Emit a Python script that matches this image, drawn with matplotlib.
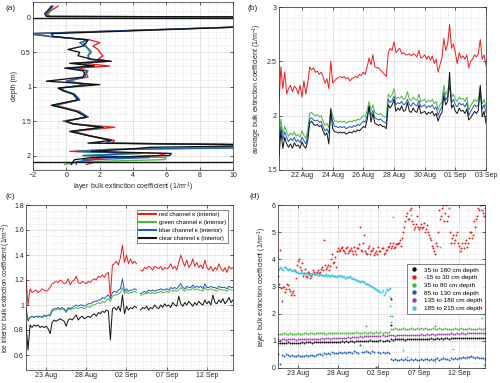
import numpy as np
import pandas as pd
import matplotlib
matplotlib.use("Agg")
import matplotlib.pyplot as plt
import matplotlib.dates as mdates
from matplotlib.ticker import MultipleLocator, FormatStrFormatter, FixedLocator

plt.rcParams["font.family"] = ["Liberation Sans", "DejaVu Sans"]
plt.rcParams["mathtext.default"] = "regular"

nan = np.nan

# -----------------------------
# COLOURS
# -----------------------------
RED = "#f01c1c"
GREEN = "#4cb83a"
BLUE = "#1f5cbf"
BLACK = "#111111"
PURPLE = "#a23fb0"
CYAN = "#3fc6df"

# -----------------------------
# (a) PROFILE DATA
# -----------------------------
depth_m = [-0.17, -0.11, -0.06, -0.02, 0.00, 0.12, 0.23, 0.27, 0.32, 0.36,
           0.41, 0.46, 0.50, 0.55, 0.60, 0.63, 0.66, 0.70, 0.73, 0.77,
           0.81, 0.86, 0.92, 0.97, 1.02, 1.06, 1.11, 1.19, 1.27, 1.31,
           1.36, 1.44, 1.50, 1.54, 1.59, 1.65, 1.72, 1.78, 1.82, 1.85,
           1.88, 1.91, 1.94, 1.97, 2.00, 2.03, 2.06, 2.09, 2.13]
red_a = [-0.5, -0.9, -1.1, -1.0, 40, 12, -2.3, -1.0, 1.4, 2.0,
         1.6, 1.9, 2.0, 2.2, 1.9, 2.5, 1.0, 2.6, 0.7, 1.3,
         1.2, 1.3, 0.0, 1.5, -0.4, -0.1, 0.5, 0.8, -0.6, 0.0,
         0.8, 1.3, -0.2, 0.5, 2.9, 0.4, 1.6, 2.9, 2.7, 14,
         12, 2.8, 0.2, 6.0, 5.5, 2.5, 1.0, 1.8, 1.2]
green_a = [-0.8, -1.0, -1.1, -1.1, 40, 12, -1.8, -1.0, 1.3, 1.0,
           1.2, 1.3, 1.4, 1.3, 1.3, 2.2, 0.6, 1.6, 0.4, 1.2,
           1.1, 1.0, 0.1, 1.2, -0.4, -0.1, 0.5, 0.8, -0.8, -0.1,
           0.7, 1.3, -0.1, 0.4, 2.3, 0.3, 1.5, 2.7, 2.4, 14,
           13, 2.4, 0.6, 4.0, 1.0, 6.0, 5.9, 0.8, -0.1]
blue_a = [-0.8, -1.0, -1.2, -1.1, 40, 12, -2.3, -1.0, 1.3, 0.8,
          1.1, 1.4, 1.5, 1.3, 1.4, 2.3, 0.5, 1.6, 0.3, 1.2,
          1.2, 1.1, 0.0, 1.1, -0.4, -0.1, 0.5, 0.8, -0.8, -0.1,
          0.7, 1.3, -0.1, 0.4, 2.1, 0.3, 1.5, 2.7, 2.4, 14,
          13, 3.0, 0.6, 4.5, 1.0, 5.0, 1.5, 0.6, 0.6]
black_a = [-0.9, -1.1, -1.3, -1.2, 40, 12, -0.9, -0.8, 1.3, 1.2,
           1.0, 0.1, 0.8, 0.7, 1.5, 2.7, 0.2, 1.7, -0.1, 1.0,
           1.1, 1.0, -1.2, 2.0, -0.5, -0.2, 0.4, 0.7, -0.9, -0.2,
           0.6, 1.2, 0.0, 0.4, 2.2, 0.2, 1.5, 2.7, 1.3, 14,
           5.1, 3.5, 1.5, 6.3, 6.2, 1.5, 0.5, 0.4, 0.3]
ice_surface_m = 0.0
ice_bottom_m = 2.10

# -----------------------------
# (b) AVERAGE COEFFICIENT, 3-hourly from 20 Aug 12:00
# -----------------------------
b_start = "2020-08-20 12:00"
red_b = [2.12, 2.45, 2.25, 2.40, 2.20, 2.25, 2.28, 2.22, 2.27, 2.25,
         2.20, 2.28, 2.17, 2.32, 2.20, 2.30, 2.45, 2.42, 2.44, 2.40,
         2.41, 2.38, 2.40, 2.36, 2.30, 2.34, 2.25, 2.50, 2.30, 2.32,
         2.34, 2.35, 2.36, 2.35, 2.36, 2.34, 2.35, 2.32, 2.34, 2.35,
         2.36, 2.35, 2.38, 2.37, 2.40, 2.38, 2.45, 2.53, 2.47, 2.56,
         2.45, 2.44, 2.44, 2.42, 2.40, 2.38, 2.36, 2.58, 2.62, 2.60,
         2.68, 2.58, 2.60, 2.62, 2.57, 2.58, 2.56, 2.56, 2.57, 2.55,
         2.57, 2.56, 2.54, 2.60, 2.53, 2.54, 2.56, 2.52, 2.55, 2.51,
         2.55, 2.48, 2.52, 2.40, 2.47, 2.53, 2.71, 2.60, 2.66, 2.84,
         2.62, 2.66, 2.58, 2.48, 2.58, 2.53, 2.55, 2.52, 2.56, 2.44,
         2.50, 2.52, 2.56, 2.54, 2.57, 2.70, 2.52, 2.56, 2.46]
green_b = [1.78, 1.97, 1.83, 1.90, 1.85, 1.81, 1.84, 1.82, 1.85, 1.81,
           1.83, 1.80, 1.86, 1.82, 1.79, 1.87, 2.02, 2.03, 2.01, 2.00,
           2.01, 1.99, 2.00, 1.95, 1.91, 1.93, 1.89, 2.07, 2.00, 1.95,
           1.95, 1.94, 1.95, 1.94, 1.95, 1.93, 1.94, 1.95, 1.94, 1.96,
           1.95, 1.97, 1.96, 1.98, 2.00, 1.99, 2.05, 2.13, 2.05, 2.10,
           2.03, 2.02, 2.01, 2.02, 2.00, 1.99, 1.98, 2.20, 2.17, 2.19,
           2.25, 2.15, 2.17, 2.16, 2.18, 2.15, 2.16, 2.22, 2.15, 2.14,
           2.17, 2.15, 2.14, 2.20, 2.13, 2.14, 2.15, 2.12, 2.14, 2.13,
           2.15, 2.11, 2.13, 2.05, 2.10, 2.13, 2.28, 2.19, 2.23, 2.31,
           2.17, 2.20, 2.15, 2.13, 2.17, 2.15, 2.16, 2.13, 2.17, 2.05,
           2.09, 2.12, 2.15, 2.13, 2.15, 2.26, 2.11, 2.15, 2.08]
blue_b = [1.72, 1.90, 1.78, 1.85, 1.80, 1.76, 1.79, 1.77, 1.80, 1.76,
          1.78, 1.75, 1.80, 1.77, 1.74, 1.82, 1.97, 1.98, 1.96, 1.95,
          1.96, 1.94, 1.95, 1.90, 1.86, 1.88, 1.84, 2.03, 1.95, 1.90,
          1.90, 1.89, 1.90, 1.89, 1.90, 1.88, 1.89, 1.90, 1.89, 1.91,
          1.90, 1.92, 1.91, 1.93, 1.95, 1.94, 2.00, 2.08, 2.00, 2.05,
          1.98, 1.97, 1.96, 1.97, 1.95, 1.94, 1.93, 2.15, 2.12, 2.14,
          2.18, 2.10, 2.12, 2.11, 2.13, 2.10, 2.11, 2.15, 2.10, 2.09,
          2.12, 2.10, 2.09, 2.14, 2.08, 2.09, 2.10, 2.07, 2.09, 2.08,
          2.10, 2.06, 2.08, 2.00, 2.05, 2.08, 2.22, 2.14, 2.18, 2.27,
          2.12, 2.15, 2.10, 2.08, 2.12, 2.10, 2.11, 2.08, 2.12, 2.00,
          2.04, 2.07, 2.10, 2.08, 2.10, 2.20, 2.06, 2.10, 2.03]
black_b = [1.62, 1.86, 1.70, 1.80, 1.74, 1.71, 1.74, 1.70, 1.75, 1.72,
           1.73, 1.70, 1.76, 1.72, 1.70, 1.77, 1.93, 1.95, 1.92, 1.91,
           1.92, 1.90, 1.91, 1.86, 1.82, 1.84, 1.74, 2.06, 1.88, 1.85,
           1.85, 1.84, 1.85, 1.84, 1.85, 1.83, 1.84, 1.85, 1.84, 1.86,
           1.85, 1.87, 1.86, 1.88, 1.90, 1.89, 1.96, 2.09, 1.94, 2.02,
           1.93, 1.92, 1.91, 1.92, 1.90, 1.90, 1.88, 2.10, 2.07, 2.10,
           2.15, 2.04, 2.07, 2.05, 2.09, 2.04, 2.05, 2.12, 2.04, 2.03,
           2.07, 2.04, 2.03, 2.10, 2.02, 2.03, 2.04, 2.01, 2.03, 2.02,
           2.04, 2.00, 2.02, 1.95, 2.00, 2.03, 2.18, 2.10, 2.13, 2.40,
           2.07, 2.10, 2.04, 2.02, 2.07, 2.04, 2.05, 2.02, 2.06, 1.96,
           1.98, 2.01, 2.04, 2.02, 2.05, 2.28, 1.99, 2.04, 1.93]
b_ticks = ["2020-08-22", "2020-08-24", "2020-08-26", "2020-08-28",
           "2020-08-30", "2020-09-01", "2020-09-03"]

# -----------------------------
# (c) ICE INTERIOR COEFFICIENT, 6-hourly from 20 Aug 12:00
# -----------------------------
c_start = "2020-08-20 12:00"
red_c = [1.22, 1.00, 1.13, 1.10, 1.11, 1.12, 1.10, 1.11, 1.13, 1.12,
         1.11, 1.12, 1.14, 1.17, 1.18, 1.19, 1.18, 1.20, 1.19, 1.17,
         1.18, 1.21, 1.16, 1.19, 1.20, 1.23, 1.18, 1.17, 1.19, 1.18,
         1.17, 1.19, 1.18, 1.20, 1.21, 1.20, 1.23, 1.22, 1.24, 1.22,
         1.25, 1.26, 1.07, 1.32, 1.33, 1.35, 1.32, 1.38, 1.48, 1.34,
         1.40, 1.33, 1.37, 1.33, 1.35, 1.33, nan, 1.28, 1.27, 1.30,
         1.29, 1.31, 1.30, 1.28, 1.31, 1.30, 1.29, 1.31, 1.28, 1.30,
         1.29, 1.30, 1.33, 1.29, 1.31, 1.28, 1.34, 1.40, 1.35, 1.31,
         1.36, 1.30, 1.32, 1.37, 1.31, 1.34, 1.30, 1.32, 1.29, 1.36,
         1.30, 1.28, 1.31, 1.27, 1.30, 1.28, 1.33, 1.29, 1.27, 1.30,
         1.26, 1.31, 1.29, 1.30]
green_c = [0.97, 0.88, 0.90, 0.91, 0.90, 0.91, 0.90, 0.91, 0.90, 0.91,
           0.91, 0.92, 0.91, 0.95, 0.96, 0.96, 0.97, 0.96, 0.97, 0.96,
           0.94, 0.97, 0.96, 0.97, 0.97, 0.98, 0.97, 0.98, 0.98, 0.97,
           0.98, 0.99, 0.98, 1.00, 1.00, 1.01, 1.02, 1.01, 1.03, 1.02,
           1.04, 1.05, 1.03, 1.07, 1.08, 1.08, 1.09, 1.10, 1.14, 1.09,
           1.11, 1.09, 1.10, 1.10, 1.11, 1.10, nan, 1.08, 1.08, 1.09,
           1.09, 1.10, 1.09, 1.10, 1.09, 1.10, 1.10, 1.11, 1.10, 1.10,
           1.11, 1.10, 1.12, 1.11, 1.12, 1.11, 1.12, 1.14, 1.12, 1.11,
           1.13, 1.12, 1.12, 1.14, 1.12, 1.13, 1.12, 1.12, 1.11, 1.14,
           1.12, 1.12, 1.13, 1.12, 1.12, 1.11, 1.13, 1.12, 1.12, 1.12,
           1.11, 1.13, 1.12, 1.12]
blue_c = [0.98, 0.87, 0.90, 0.91, 0.90, 0.91, 0.91, 0.91, 0.90, 0.92,
          0.91, 0.92, 0.92, 0.96, 0.97, 0.97, 0.98, 0.97, 0.98, 0.97,
          0.95, 0.98, 0.97, 0.98, 0.99, 1.00, 0.99, 1.00, 1.00, 0.99,
          1.00, 1.01, 1.01, 1.02, 1.03, 1.03, 1.04, 1.04, 1.06, 1.05,
          1.07, 1.08, 1.05, 1.10, 1.11, 1.10, 1.12, 1.13, 1.21, 1.11,
          1.13, 1.11, 1.12, 1.12, 1.13, 1.12, nan, 1.09, 1.10, 1.11,
          1.10, 1.12, 1.11, 1.12, 1.11, 1.12, 1.12, 1.13, 1.12, 1.12,
          1.13, 1.12, 1.14, 1.13, 1.14, 1.13, 1.15, 1.17, 1.14, 1.13,
          1.15, 1.14, 1.14, 1.16, 1.14, 1.15, 1.14, 1.15, 1.13, 1.17,
          1.14, 1.14, 1.15, 1.14, 1.14, 1.13, 1.15, 1.14, 1.14, 1.14,
          1.13, 1.15, 1.14, 1.14]
black_c = [0.85, 0.64, 0.84, 0.82, 0.84, 0.83, 0.84, 0.82, 0.83, 0.82,
           0.83, 0.81, 0.77, 0.86, 0.88, 0.87, 0.88, 0.89, 0.88, 0.87,
           0.83, 0.88, 0.89, 0.88, 0.90, 0.92, 0.88, 0.90, 0.91, 0.89,
           0.90, 0.91, 0.90, 0.92, 0.93, 0.91, 0.94, 0.93, 0.95, 0.94,
           0.96, 0.95, 0.72, 0.97, 0.98, 0.96, 0.99, 0.95, 1.08, 0.93,
           0.99, 0.96, 0.98, 0.97, 0.99, 0.98, nan, 0.96, 0.98, 0.97,
           0.99, 0.96, 0.98, 0.97, 1.00, 0.98, 0.97, 1.00, 0.98, 1.01,
           0.99, 1.00, 0.98, 1.02, 1.00, 0.99, 1.07, 1.01, 0.99, 1.02,
           1.00, 1.03, 1.01, 0.99, 1.02, 1.00, 1.03, 1.01, 1.00, 1.04,
           1.01, 1.03, 1.00, 1.08, 1.02, 1.01, 1.04, 1.02, 1.05, 1.01,
           1.03, 1.06, 1.02, 1.04]
cd_ticks = ["2020-08-23", "2020-08-28", "2020-09-02", "2020-09-07", "2020-09-12"]

# -----------------------------
# (d) LAYER COEFFICIENTS, 6-hourly from 20 Aug 12:00
# -----------------------------
d_start = "2020-08-20 12:00"
d_start_late = "2020-08-20 15:00"
black_d = [0.92, 0.93, 0.91, 0.93, 0.92, 0.94, 0.92, 0.93, 0.91, 0.93,
           0.92, 0.93, 0.94, 0.92, 0.95, 0.94, 0.96, 0.93, 0.95, 0.96,
           0.94, 0.95, 0.97, 0.95, 0.96, 0.94, 0.97, 0.96, 0.95, 0.97,
           0.96, 0.97, 0.98, 0.96, 0.98, 0.97, 0.99, 0.98, 0.97, 0.99,
           1.00, 0.98, 0.99, 1.01, 0.99, 1.00, 1.02, 1.00, 0.99, 1.01,
           1.00, 1.02, 1.01, 1.00, 1.02, 1.01, 1.05, 1.04, 1.06, 1.05,
           1.07, 1.05, 1.06, 1.04, 1.06, 1.07, 1.05, 1.06, 1.08, 1.06,
           1.07, 1.05, 1.08, 1.07, 1.06, 1.08, 1.09, 1.07, 1.08, 1.10,
           1.08, 1.09, 1.07, 1.10, 1.09, 1.08, 1.10, 1.09, 1.11, 1.10,
           1.09, 1.11, 1.10, 1.12, 1.10, 1.09, 1.11, 1.10, 1.12, 1.11,
           1.10, 1.12, 1.11, 1.10]
red_d = [3.40, 4.35, 2.45, 3.00, 2.90, 3.05, 2.85, 2.75, 2.70, 3.30,
         3.95, 3.70, 3.85, 3.50, 3.40, 3.55, 3.30, 3.45, 3.55, 3.50,
         3.60, 3.55, 3.70, 4.70, 3.65, 3.80, 3.75, 4.20, 3.90, 3.70,
         4.40, 4.35, 4.45, 4.30, 4.40, 4.25, 4.35, 4.30, 4.45, 4.20,
         4.40, 5.20, 4.30, 4.90, 4.25, 4.40, 4.20, 4.35, 4.15, 4.30,
         4.45, 4.30, 4.40, 4.25, 4.35, 4.50, 4.40, 4.60, 4.45, 4.55,
         4.60, 4.50, 5.00, 5.40, 5.70, 5.50, 5.90, 5.30, 5.20, 5.60,
         5.10, 5.30, 5.20, 5.00, 5.25, 4.90, 4.70, 4.40, 4.20, 4.50,
         5.80, 5.60, 6.00, 5.70, 5.40, 5.90, 4.60, 4.90, 4.70, 5.00,
         4.50, 4.40, 3.80, 4.60, 4.45, 4.80, 5.00, 4.90, 5.20, 5.60,
         5.80, 6.00, 5.70, 5.90]
red_d_late = [3.10, 2.95, 3.00, 2.80, 3.10, 2.90, 2.70, 2.85, 3.60, 3.80,
              4.00, 3.60, 3.40, 3.65, 3.35, 3.50, 3.40, 3.60, 3.45, 3.55,
              3.50, 3.65, 3.60, 3.80, 3.70, 3.60, 4.00, 3.85, 4.10, 4.30,
              4.30, 4.40, 4.35, 4.25, 4.45, 4.30, 4.40, 4.20, 4.30, 4.40,
              4.55, 4.35, 4.60, 4.30, 4.20, 4.50, 4.30, 4.40, 4.25, 4.20,
              4.30, 4.40, 4.20, 4.35, 4.45, 4.60, 4.50, 4.40, 4.55, 4.60,
              4.70, 4.80, 5.20, 5.60, 5.50, 5.80, 5.40, 5.10, 5.30, 5.20,
              5.20, 5.15, 5.35, 5.10, 5.00, 4.80, 4.50, 4.30, 4.60, 5.00,
              5.50, 5.90, 5.40, 6.00, 5.60, 5.00, 4.80, 4.60, 4.90, 4.60,
              4.30, 4.60, 4.40, 4.70, 4.60, 5.00, 4.80, 5.40, 5.50, 5.90,
              6.00, 5.80, 5.60, 5.70]
green_d = [1.25, 1.26, 1.24, 1.27, 1.26, 1.25, 1.27, 1.26, 1.24, 1.26,
           1.27, 1.25, 1.26, 1.28, 1.27, 1.26, 1.28, 1.27, 1.26, 1.28,
           1.27, 1.29, 1.28, 1.27, 1.26, 1.28, 1.29, 1.27, 1.28, 1.30,
           1.28, 1.27, 1.29, 1.28, 1.30, 1.29, 1.28, 1.30, 1.29, 1.31,
           1.28, 1.30, 1.29, 1.31, 1.30, 1.29, 1.31, 1.30, 1.29, 1.31,
           1.30, 1.32, 1.30, 1.31, 1.30, 1.32, 1.45, 1.44, 1.46, 1.45,
           1.43, 1.45, 1.46, 1.44, 1.45, 1.43, 1.46, 1.45, 1.44, 1.46,
           1.45, 1.47, 1.44, 1.46, 1.45, 1.43, 1.45, 1.46, 1.44, 1.45,
           1.47, 1.45, 1.44, 1.46, 1.45, 1.43, 1.45, 1.44, 1.46, 1.45,
           1.44, 1.46, 1.43, 1.45, 1.44, 1.46, 1.45, 1.44, 1.43, 1.45,
           1.46, 1.44, 1.45, 1.46]
blue_d = [0.50, 0.15, 0.48, 0.46, 0.50, 0.47, 0.45, 0.48, 0.46, 0.44,
          0.47, 0.45, 0.43, 0.46, 0.48, 0.45, 0.47, 0.49, 0.46, 0.48,
          0.50, 0.52, 0.49, 0.55, 0.53, 0.56, 0.52, 0.58, 0.55, 0.57,
          0.54, 0.58, 0.56, 0.59, 0.57, 0.60, 0.58, 0.56, 0.61, 0.59,
          0.57, 0.85, 0.60, 0.58, 0.62, 0.59, 0.57, 0.61, 0.58, 0.05,
          0.60, 0.57, 0.59, 0.56, 0.58, 0.55, 0.33, 0.30, 0.32, 0.29,
          0.31, 0.33, 0.30, 0.32, 0.28, 0.31, 0.33, 0.30, 0.32, 0.29,
          0.31, 0.33, 0.30, 0.32, 0.34, 0.31, 0.33, 0.30, 0.32, 0.35,
          0.31, 0.33, 0.36, 0.32, 0.34, 0.31, 0.35, 0.33, 0.36, 0.34,
          0.38, 0.36, 0.40, 0.37, 0.42, 0.39, 0.43, 0.40, 0.38, 0.41,
          0.37, 0.35, 0.38, 0.34]
purple_d = [1.05, 1.04, 1.06, 1.05, 1.04, 1.06, 1.05, 1.06, 1.05, 1.04,
            1.06, 1.05, 1.07, 1.06, 1.05, 1.07, 1.06, 1.08, 1.07, 1.06,
            1.08, 1.07, 1.09, 1.08, 1.10, 1.09, 1.08, 1.10, 1.09, 1.11,
            1.10, 1.12, 1.11, 1.10, 1.12, 1.13, 1.12, 1.14, 1.13, 1.15,
            1.14, 1.16, 1.15, 1.17, 1.16, 1.18, 1.17, 1.19, 1.18, 1.17,
            1.19, 1.18, 1.20, 1.19, 1.18, 1.20, 1.20, 1.21, 1.19, 1.21,
            1.20, 1.22, 1.21, 1.20, 1.22, 1.21, 1.23, 1.22, 1.21, 1.23,
            1.22, 1.24, 1.23, 1.22, 1.24, 1.23, 1.25, 1.24, 1.23, 1.25,
            1.24, 1.26, 1.25, 1.24, 1.26, 1.25, 1.27, 1.26, 1.25, 1.27,
            1.26, 1.28, 1.27, 1.26, 1.28, 1.27, 1.29, 1.28, 1.27, 1.29,
            1.28, 1.30, 1.29, 1.30]
cyan_d = [3.60, 3.70, 3.65, 3.72, 3.68, 3.60, 3.66, 3.58, 3.62, 3.55,
          3.50, 3.48, 3.52, 3.45, 3.50, 3.47, 3.43, 3.48, 3.45, 3.50,
          3.42, 3.46, 3.44, 3.40, 3.45, 3.42, 3.38, 3.43, 3.40, 3.36,
          3.38, 3.42, 3.35, 3.40, 3.30, 3.36, 3.38, 3.32, 3.28, 3.25,
          3.22, 3.18, 3.20, 3.15, 3.10, 3.08, 3.02, 3.00, 2.95, 2.90,
          2.85, 2.80, 2.88, 2.75, 2.90, 2.92]
cyan_d_late = [3.65, 3.68, 3.62, 3.70, 3.64, 3.63, 3.60, 3.62, 3.57, 3.52,
               3.49, 3.50, 3.47, 3.48, 3.46, 3.44, 3.46, 3.45, 3.47, 3.44,
               3.44, 3.43, 3.41, 3.43, 3.40, 3.39, 3.41, 3.38, 3.37, 3.39,
               3.40, 3.37, 3.38, 3.33, 3.34, 3.35, 3.30, 3.27, 3.26, 3.23,
               3.20, 3.19, 3.16, 3.12, 3.09, 3.05, 3.01, 2.98, 2.92, 2.87,
               2.82, 2.78, 2.70, 2.82, 2.88, 2.95]
cyan_extra_time = ["2020-09-03 09:00", "2020-09-03 10:00", "2020-09-03 11:00",
                   "2020-09-03 12:00", "2020-09-03 19:00", "2020-09-05 01:00",
                   "2020-09-05 12:00", "2020-09-06 02:00", "2020-09-07 00:00",
                   "2020-09-09 02:00", "2020-09-09 15:00", "2020-09-10 20:00",
                   "2020-09-11 06:00", "2020-09-12 05:00", "2020-09-13 12:00",
                   "2020-09-14 17:00", "2020-09-14 20:00", "2020-09-15 02:00"]
cyan_extra = [2.60, 2.30, 1.90, 1.70, 5.55, 0.67,
              0.40, 5.65, 6.00, 0.24, 4.47, 5.90,
              0.70, 4.29, 3.80, 5.80, 1.85, 0.10]
black_extra_time = ["2020-09-03 12:00", "2020-09-03 14:00"]
black_extra = [2.55, 1.60]
green_extra_time = ["2020-08-31 12:00", "2020-09-03 16:00", "2020-09-09 00:00"]
green_extra = [1.55, 1.90, 1.55]

legend_d = ["35 to 180 cm depth", "-15 to 30 cm depth", "35 to 80 cm depth",
            "85 to 130 cm depth", "135 to 180 cm depth", "185 to 215 cm depth"]


def times(start, values, step):
    return pd.date_range(start, periods=len(values), freq=step)


def style_axes(ax):
    ax.tick_params(which="major", direction="in", length=2, width=0.5,
                   labelsize=5, pad=1.5, colors="#262626",
                   top=True, right=True)
    ax.tick_params(which="minor", length=0)
    for s in ax.spines.values():
        s.set_linewidth(0.5)
        s.set_color("#262626")
    ax.grid(True, which="major", color="#dadada", lw=0.5)
    ax.grid(True, which="minor", color="#d6d6d6", lw=0.5, ls=":")
    ax.set_axisbelow(True)


fig = plt.figure(figsize=(5, 3.83), dpi=100)
W, H = 500, 383


def add_ax(l, t, r, b):
    return fig.add_axes([l / W, 1 - b / H, (r - l) / W, (b - t) / H])


# -----------------------------
# (a)
# -----------------------------
ax = add_ax(33, 2, 233, 170)
for vals, col in [(red_a, RED), (green_a, GREEN), (blue_a, BLUE), (black_a, BLACK)]:
    ax.plot(vals, depth_m, color=col, lw=0.95)
ax.axhline(ice_surface_m, color=BLACK, lw=1.0)
ax.axhline(ice_bottom_m, color=BLACK, lw=1.0)
ax.set_xlim(-2, 10)
ax.set_ylim(2.21, -0.23)
ax.xaxis.set_major_locator(MultipleLocator(2))
ax.xaxis.set_minor_locator(MultipleLocator(0.5))
ax.yaxis.set_major_locator(FixedLocator([0, 0.5, 1, 1.5, 2]))
ax.yaxis.set_minor_locator(MultipleLocator(0.1))
ax.yaxis.set_major_formatter(FormatStrFormatter("%g"))
style_axes(ax)
ax.set_xlabel("layer bulk extinction coefficient (1/m$^{-1}$)", fontsize=5, labelpad=1.5, color="#262626")
ax.set_ylabel("depth (m)", fontsize=5, labelpad=2, color="#262626")

# -----------------------------
# (b)
# -----------------------------
ax = add_ax(279, 7, 486, 170)
tb = times(b_start, red_b, "3h")
for vals, col in [(red_b, RED), (green_b, GREEN), (blue_b, BLUE), (black_b, BLACK)]:
    ax.plot(tb, vals, color=col, lw=0.7)
ax.set_xlim(tb[0], tb[-1])
ax.set_ylim(1.5, 3)
ax.xaxis.set_major_locator(FixedLocator(mdates.date2num(pd.to_datetime(b_ticks))))
ax.xaxis.set_minor_locator(mdates.HourLocator(byhour=[0, 12]))
ax.xaxis.set_major_formatter(mdates.DateFormatter("%d %b"))
ax.yaxis.set_major_locator(MultipleLocator(0.5))
ax.yaxis.set_minor_locator(MultipleLocator(0.1))
ax.yaxis.set_major_formatter(FormatStrFormatter("%g"))
style_axes(ax)
ax.set_ylabel("average bulk extinction coefficient (1/m$^{-1}$)", fontsize=5, labelpad=2, color="#262626")

# -----------------------------
# (c)
# -----------------------------
ax = add_ax(26, 205, 233, 370)
tc = times(c_start, red_c, "6h")
labels_c = ["red channel κ (interior)", "green channel κ (interior)",
            "blue channel κ (interior)", "clear channel κ (interior)"]
for vals, col, lab in zip([red_c, green_c, blue_c, black_c],
                          [RED, GREEN, BLUE, BLACK], labels_c):
    ax.plot(tc, vals, color=col, lw=0.7, label=lab)
ax.set_xlim(tc[0], tc[-1])
ax.set_ylim(0.48, 1.8)
ax.xaxis.set_major_locator(FixedLocator(mdates.date2num(pd.to_datetime(cd_ticks))))
ax.xaxis.set_minor_locator(mdates.DayLocator())
ax.xaxis.set_major_formatter(mdates.DateFormatter("%d %b"))
ax.yaxis.set_major_locator(MultipleLocator(0.2))
ax.yaxis.set_minor_locator(MultipleLocator(0.05))
ax.yaxis.set_major_formatter(FormatStrFormatter("%g"))
style_axes(ax)
ax.set_ylabel("ice interior bulk extinction coefficient (1/m$^{-1}$)", fontsize=4.8, labelpad=0.5, color="#262626")
leg = ax.legend(loc="upper right", fontsize=4.3, frameon=True, fancybox=False,
                edgecolor="#262626", handlelength=2.8, handletextpad=0.5,
                borderaxespad=0.8, labelspacing=0.45, borderpad=0.4)
leg.get_frame().set_linewidth(0.5)
for h in leg.get_lines():
    h.set_linewidth(1.5)

# -----------------------------
# (d)
# -----------------------------
ax = add_ax(278, 205, 485, 368)
td = times(d_start, black_d, "6h")
mk = dict(ls="none", marker="o", ms=1.4, mew=0)
ax.plot(td, black_d, color=BLACK, label=legend_d[0], **mk)
ax.plot(td, red_d, color=RED, label=legend_d[1], **mk)
ax.plot(times(d_start_late, red_d_late, "6h"), red_d_late, color=RED, **mk)
ax.plot(td, green_d, color=GREEN, label=legend_d[2], **mk)
ax.plot(td, blue_d, color=BLUE, label=legend_d[3], **mk)
ax.plot(td, purple_d, color=PURPLE, label=legend_d[4], **mk)
ax.plot(times(d_start, cyan_d, "6h"), cyan_d, color=CYAN, label=legend_d[5], **mk)
ax.plot(times(d_start_late, cyan_d_late, "6h"), cyan_d_late, color=CYAN, **mk)
ax.plot(pd.to_datetime(cyan_extra_time), cyan_extra, color=CYAN, **mk)
ax.plot(pd.to_datetime(black_extra_time), black_extra, color=BLACK, **mk)
ax.plot(pd.to_datetime(green_extra_time), green_extra, color=GREEN, **mk)
ax.set_xlim(td[0], td[-1])
ax.set_ylim(0, 6)
ax.xaxis.set_major_locator(FixedLocator(mdates.date2num(pd.to_datetime(cd_ticks))))
ax.xaxis.set_minor_locator(mdates.DayLocator())
ax.xaxis.set_major_formatter(mdates.DateFormatter("%d %b"))
ax.yaxis.set_major_locator(MultipleLocator(1))
ax.yaxis.set_minor_locator(MultipleLocator(0.2))
style_axes(ax)
ax.set_ylabel("layer bulk extinction coefficient (1/m$^{-1}$)", fontsize=5, labelpad=2, color="#262626")
leg = ax.legend(loc="upper right", bbox_to_anchor=(1.0, 0.635), fontsize=4.6,
                frameon=True, fancybox=False, edgecolor="#262626",
                markerscale=2.3, handlelength=1.5, labelspacing=0.35,
                borderpad=0.4, borderaxespad=0)
leg.get_frame().set_linewidth(0.5)

# -----------------------------
# PANEL LABELS
# -----------------------------
for lab, x, y in [("(a)", 5, 9), ("(b)", 247, 9), ("(c)", 5, 197), ("(d)", 249, 197)]:
    fig.text(x / W, 1 - y / H, lab, fontsize=6, va="center", ha="left", color="#262626")

fig.savefig("out.png", dpi=100)
